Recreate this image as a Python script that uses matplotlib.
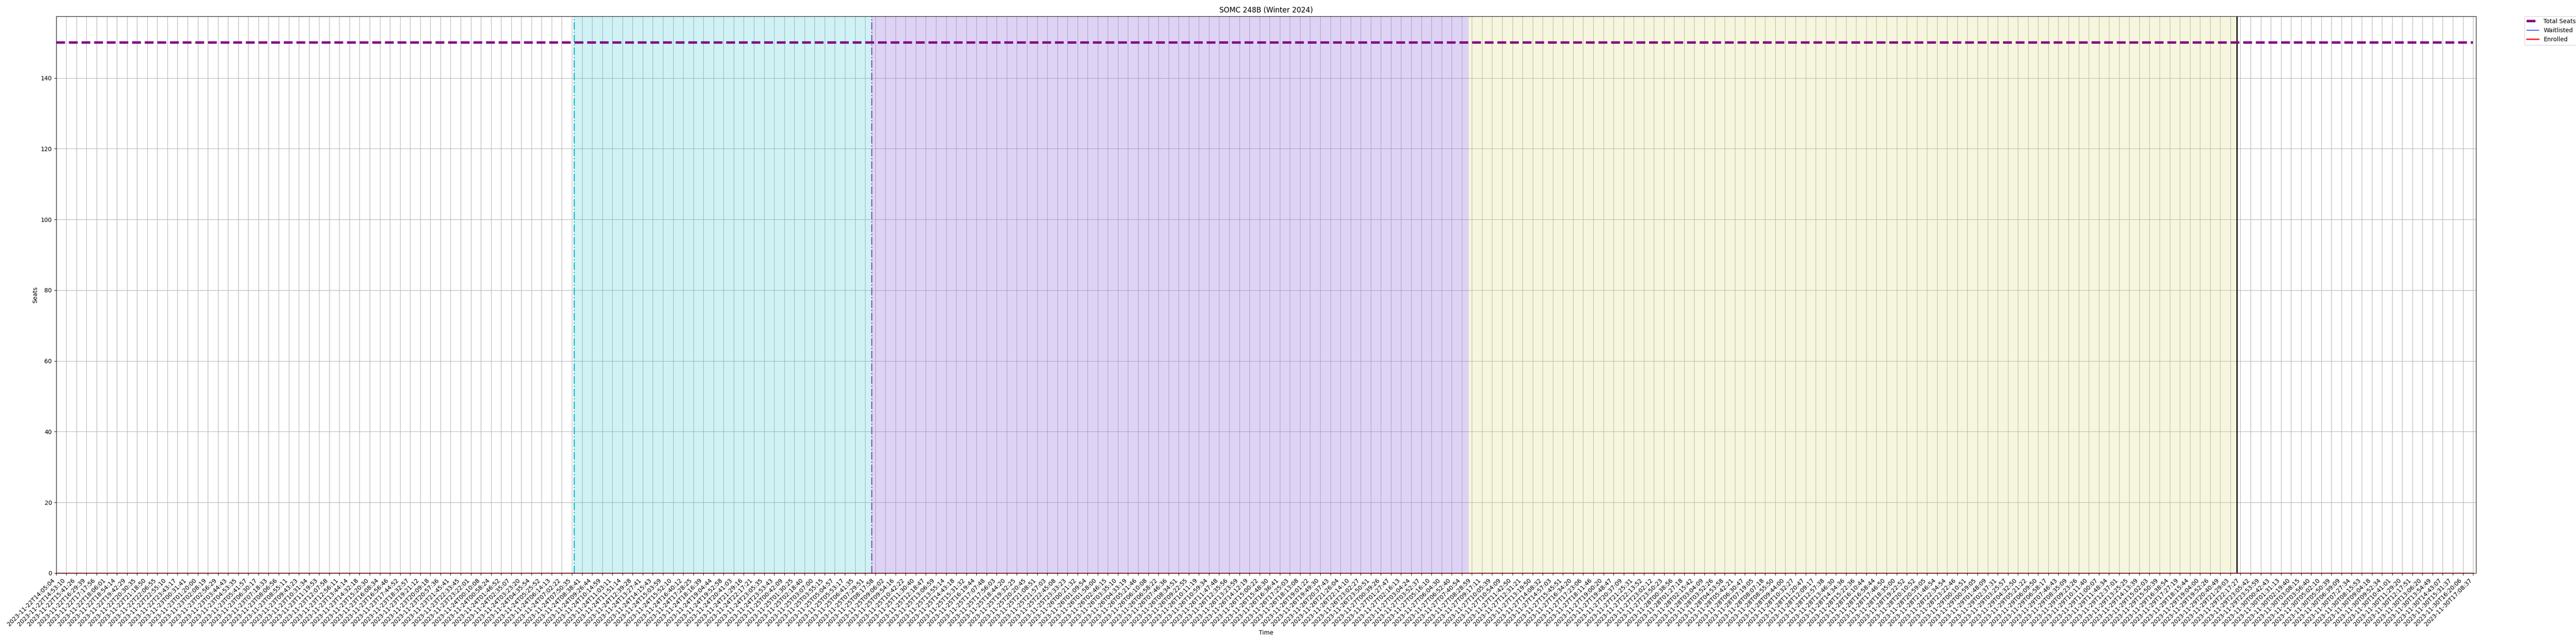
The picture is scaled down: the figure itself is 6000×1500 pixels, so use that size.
import numpy as np
import pandas as pd
import matplotlib
matplotlib.use('Agg')
import matplotlib.pyplot as plt

# Horas de muestreo (etiquetas del eje X), agrupadas por día
horas_22 = ['14:05:04', '14:53:10', '15:41:26', '16:29:39', '17:17:56', '18:06:01', '18:54:14',
            '19:42:29', '20:30:35', '21:18:50', '22:06:55', '22:55:10', '23:43:17']
horas_23 = ['00:31:41', '01:20:00', '02:08:19', '02:56:29', '03:44:43', '04:53:35', '05:41:57',
            '06:30:17', '07:18:33', '08:06:56', '08:55:11', '09:43:23', '10:31:34', '11:19:53',
            '12:07:58', '12:56:11', '13:44:14', '14:32:18', '15:20:30', '16:08:34', '16:56:46',
            '17:44:52', '18:32:57', '19:21:12', '20:09:18', '20:57:36', '21:45:41', '22:33:45',
            '23:22:01']
horas_24 = ['00:10:08', '00:58:24', '01:46:52', '02:35:07', '03:23:20', '04:35:54', '05:25:52',
            '06:14:13', '07:02:22', '07:50:35', '08:38:41', '09:26:44', '10:14:59', '11:03:11',
            '11:51:14', '12:39:28', '13:27:41', '14:15:43', '15:03:59', '15:52:10', '16:40:12',
            '17:28:25', '18:16:39', '19:04:44', '19:52:58', '20:41:03', '21:29:16', '22:17:21',
            '23:05:35', '23:53:43']
horas_25 = ['00:42:09', '01:30:25', '02:18:40', '03:07:00', '03:55:15', '05:04:57', '05:53:17',
            '06:41:35', '07:29:51', '08:17:58', '09:06:02', '09:54:16', '10:42:22', '11:30:40',
            '12:18:47', '13:06:59', '13:55:14', '14:43:18', '15:31:32', '16:19:44', '17:07:48',
            '17:56:03', '18:44:20', '19:32:25', '20:20:45', '21:08:51', '21:57:03', '22:45:08',
            '23:33:23']
horas_26 = ['00:21:32', '01:09:54', '01:58:00', '02:46:15', '03:35:10', '04:33:19', '05:21:46',
            '06:10:08', '06:58:22', '07:46:36', '08:34:51', '09:22:55', '10:11:19', '10:59:34',
            '11:47:48', '12:35:56', '13:23:59', '14:12:19', '15:00:22', '15:48:30', '16:36:41',
            '17:25:03', '18:13:08', '19:01:22', '19:49:30', '20:37:43', '21:26:04', '22:14:10',
            '23:02:27', '23:50:51']
horas_27 = ['00:39:26', '01:27:47', '02:16:13', '03:04:24', '03:52:37', '05:16:10', '06:04:30',
            '06:52:40', '07:40:54', '08:28:59', '09:17:11', '10:05:39', '10:54:09', '11:42:50',
            '12:31:21', '13:19:50', '14:08:32', '14:57:03', '15:45:51', '16:34:20', '17:23:06',
            '18:11:46', '19:00:20', '19:48:47', '20:37:09', '21:25:31', '22:13:52', '23:02:12',
            '23:50:23']
horas_28 = ['00:38:56', '01:27:18', '02:15:42', '03:04:09', '03:52:26', '04:53:58', '05:42:21',
            '06:30:47', '07:19:05', '08:07:18', '08:55:50', '09:44:00', '10:32:27', '11:20:47',
            '12:09:17', '12:57:38', '13:46:30', '14:34:36', '15:22:36', '16:10:44', '16:58:44',
            '17:46:50', '18:35:00', '19:22:52', '20:10:52', '20:59:05', '21:46:54', '22:34:54',
            '23:22:46']
horas_29 = ['00:10:51', '00:59:05', '01:48:09', '02:37:31', '03:25:57', '04:32:50', '05:21:22',
            '06:09:50', '06:58:17', '07:46:43', '08:35:09', '09:23:26', '10:11:40', '11:00:07',
            '11:48:34', '12:37:01', '13:25:25', '14:13:39', '15:02:03', '15:50:39', '16:38:54',
            '17:27:19', '18:15:44', '19:04:00', '19:52:26', '20:40:49', '21:29:03', '22:17:27',
            '23:05:42', '23:53:59']
horas_30 = ['00:42:43', '01:31:13', '02:19:40', '03:08:15', '03:56:40', '05:02:10', '05:50:39',
            '06:39:09', '07:27:34', '08:15:53', '09:04:18', '09:52:34', '10:41:01', '11:29:20',
            '12:17:51', '13:06:20', '13:54:49', '14:43:07', '15:31:37', '16:20:06', '17:08:37']

dias = {'2023-11-22': horas_22, '2023-11-23': horas_23, '2023-11-24': horas_24,
        '2023-11-25': horas_25, '2023-11-26': horas_26, '2023-11-27': horas_27,
        '2023-11-28': horas_28, '2023-11-29': horas_29, '2023-11-30': horas_30}
tiempos = [f'{d}T{h}' for d, hs in dias.items() for h in hs]

# Series (todas constantes en la imagen)
asientos_totales = [150] * len(tiempos)
lista_espera = [0] * len(tiempos)
inscritos = [0] * len(tiempos)

# Fases de inscripción (inicio de cada una) y cierre
fases_inicio = ['2023-11-24T08:00:00', '2023-11-25T08:00:00', '2023-11-27T08:15:00']
fases_color = ['#17becf', 'mediumpurple', '#d4d45a']
fases_alpha = [0.2, 0.3, 0.2]
fin_fases = '2023-11-29T22:00:00'

# Posición fraccional de una fecha dentro del eje categórico
t_num = pd.to_datetime(tiempos).astype('int64').to_numpy()
def posicion(fecha):
    return float(np.interp(pd.Timestamp(fecha).value, t_num, np.arange(len(tiempos))))

x = np.arange(len(tiempos))

fig, ax = plt.subplots(figsize=(60, 15), dpi=100)

limites = [posicion(f) for f in fases_inicio] + [posicion(fin_fases)]
for i, color in enumerate(fases_color):
    ax.axvspan(limites[i], limites[i + 1], color=color, alpha=fases_alpha[i], lw=0)

ax.axvline(limites[0], color='#17becf', linestyle='-.', linewidth=2)
ax.axvline(limites[1], color='#7b68b5', linestyle='-.', linewidth=2)
ax.axvline(limites[3], color='black', linestyle='-', linewidth=2)

ax.plot(x, asientos_totales, color='purple', linestyle='--', linewidth=4, label='Total Seats')
ax.plot(x, lista_espera, color='blue', linewidth=1, label='Waitlisted')
ax.plot(x, inscritos, color='red', linewidth=2, label='Enrolled')

ax.set_xticks(x)
ax.set_xticklabels(tiempos, rotation=45, ha='right')
ax.set_xlim(0, len(tiempos) - 0.7)
ax.set_ylim(0, 157.5)

ax.set_title('SOMC 248B (Winter 2024)', fontsize=12)
ax.set_xlabel('Time')
ax.set_ylabel('Seats')
ax.grid(True)
ax.set_axisbelow(True)
ax.legend(bbox_to_anchor=(1.02, 1), loc='upper left', borderaxespad=0)

plt.subplots_adjust(left=0.0218, right=0.9612, top=0.975, bottom=0.11)
plt.savefig('out.png', dpi=100)
